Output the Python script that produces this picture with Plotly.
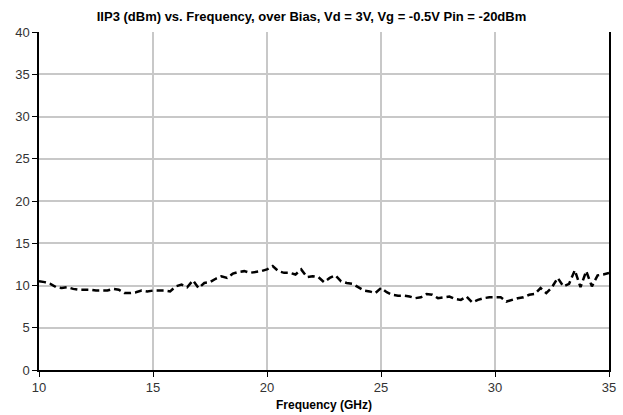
import plotly.graph_objects as go

freq = [10.0 + 0.25 * i for i in range(101)]
iip3 = [
    10.5, 10.4, 10.2, 9.8, 9.7, 9.8, 9.6, 9.5, 9.5, 9.5,
    9.4, 9.4, 9.4, 9.6, 9.5, 9.1, 9.1, 9.2, 9.4, 9.3,
    9.4, 9.4, 9.4, 9.3, 9.9, 10.1, 9.8, 10.6, 9.7, 10.3,
    10.4, 10.8, 11.1, 10.9, 11.4, 11.6, 11.7, 11.5, 11.6, 11.7,
    11.9, 12.3, 11.7, 11.5, 11.5, 11.3, 11.9, 11.0, 11.1, 11.0,
    10.4, 10.9, 11.2, 10.5, 10.3, 10.2, 9.8, 9.4, 9.3, 9.1,
    9.7, 9.2, 8.9, 8.8, 8.8, 8.7, 8.5, 8.6, 9.0, 8.9,
    8.5, 8.6, 8.7, 8.4, 8.3, 8.7, 8.0, 8.3, 8.5, 8.6,
    8.6, 8.6, 8.1, 8.3, 8.5, 8.6, 8.9, 9.0, 9.7, 9.1,
    9.8, 10.9, 9.9, 10.2, 11.8, 9.8, 11.7, 9.9, 11.2, 11.3,
    11.5,
]
x_ticks = [10, 15, 20, 25, 30, 35]
y_ticks = [0, 5, 10, 15, 20, 25, 30, 35, 40]

title_text = "IIP3 (dBm) vs. Frequency, over Bias, Vd = 3V, Vg = -0.5V Pin = -20dBm"
x_title = "Frequency (GHz)"

fig = go.Figure()
fig.add_trace(go.Scatter(
    x=freq, y=iip3, mode="lines",
    line=dict(color="black", width=2.5, dash="7px,4px"),
    showlegend=False,
))

font_family = "Liberation Sans, Arial, sans-serif"
fig.update_layout(
    width=623, height=415,
    margin=dict(l=39, r=14, t=32, b=45),
    paper_bgcolor="white", plot_bgcolor="white",
    title=dict(text="<b>" + title_text + "</b>", x=0.5, xanchor="center",
               y=0.972, yanchor="top",
               font=dict(family=font_family, size=13, color="black")),
    font=dict(family=font_family, size=13, color="#333333"),
    xaxis=dict(range=[10, 35], tickvals=x_ticks, showgrid=True,
               gridcolor="#c8c8c8", gridwidth=1.5,
               showline=True, linecolor="black", linewidth=1.5,
               ticks="outside", ticklen=5, tickcolor="black",
               zeroline=False, automargin=False,
               title=dict(text="<b>" + x_title + "</b>", standoff=6,
                          font=dict(family=font_family, size=12, color="black"))),
    yaxis=dict(range=[0, 40], tickvals=y_ticks, showgrid=True,
               gridcolor="#c8c8c8", gridwidth=1.5,
               showline=True, linecolor="black", linewidth=1.5, mirror=True,
               ticks="outside", ticklen=5, tickcolor="black",
               zeroline=False, automargin=False),
)

fig.write_html("out.html")
